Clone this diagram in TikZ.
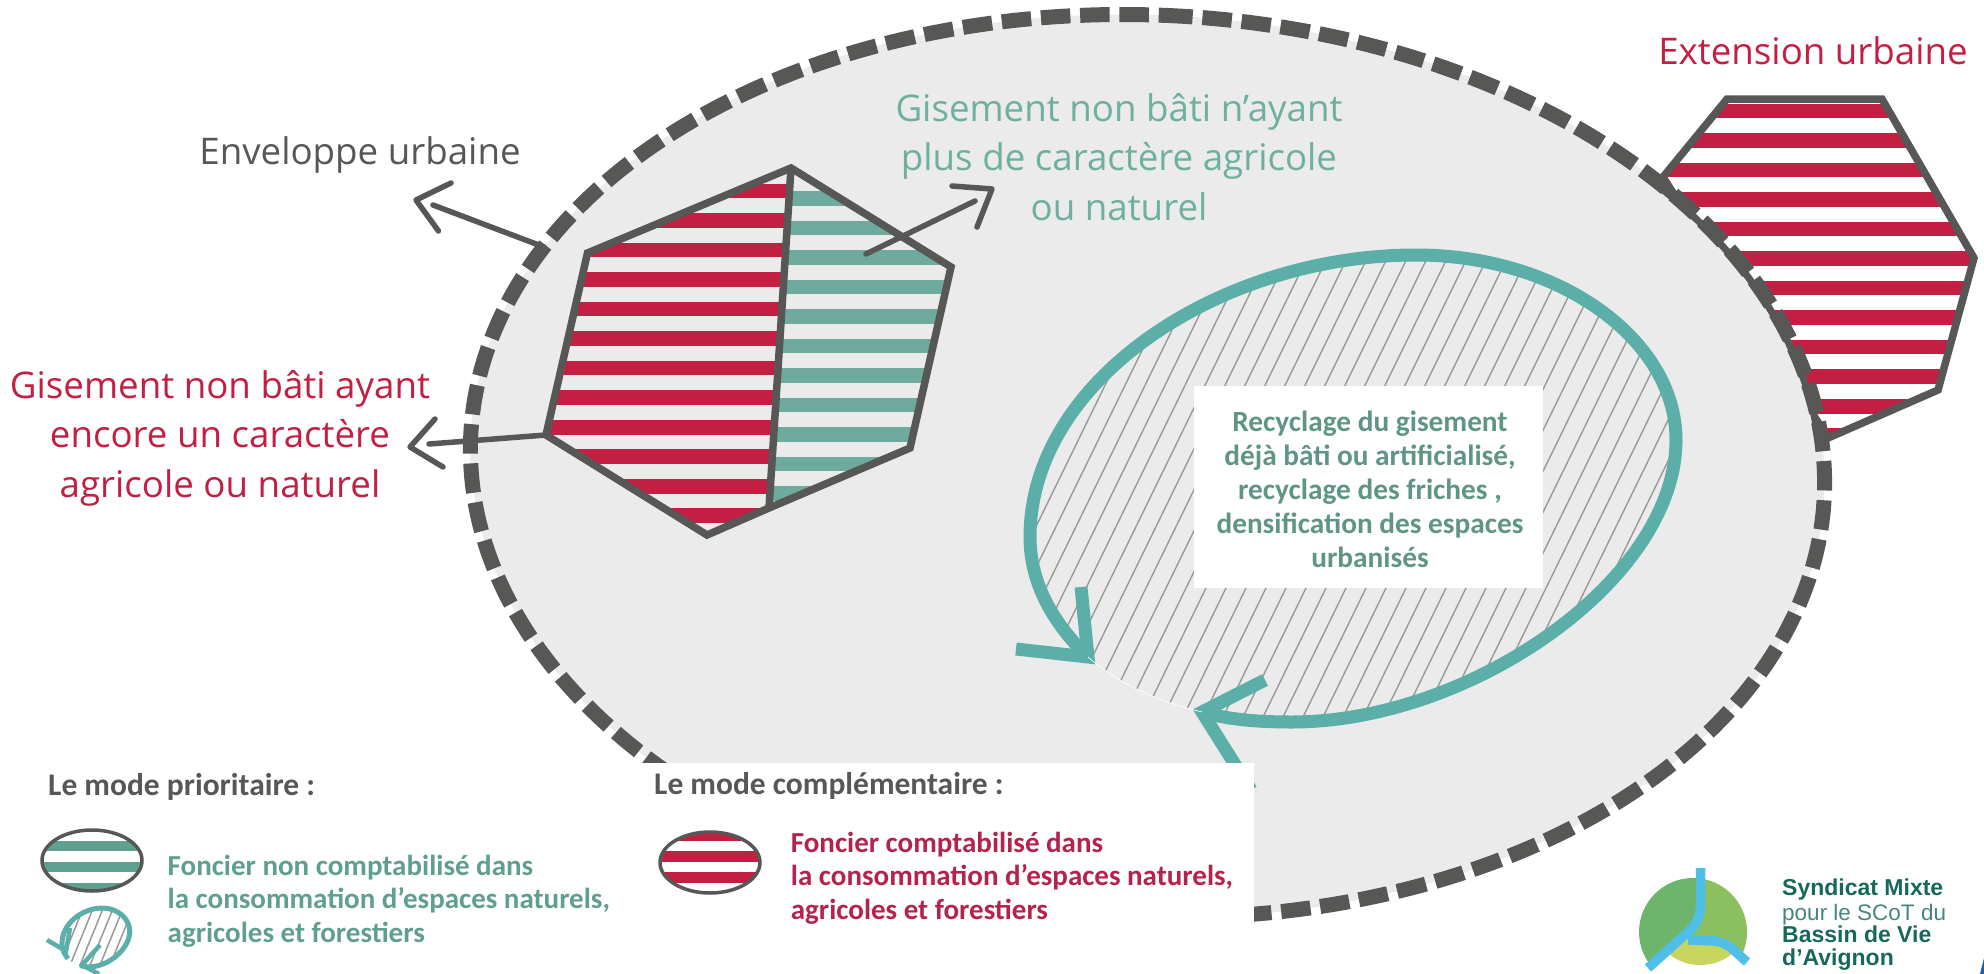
\documentclass[tikz,border=0pt]{standalone}
\usepackage{fontspec}
\setmainfont{Open Sans}
\newfontfamily\legfont{Carlito}
\newfontfamily\logofont{Liberation Sans}
\definecolor{dark}{HTML}{575756}
\definecolor{pale}{HTML}{EBEBEB}
\definecolor{rouge}{HTML}{C21F43}
\definecolor{stripegreen}{HTML}{6EAB9E}
\definecolor{teal2}{HTML}{5BAFA8}
\definecolor{labgreen}{HTML}{6DB0A0}
\definecolor{boxgreen}{HTML}{5F9683}
\definecolor{leggreen}{HTML}{5F9F8F}
\definecolor{legred}{HTML}{B5234D}
\definecolor{loggreen}{HTML}{17685C}
\definecolor{logoa}{HTML}{8CBF5E}
\definecolor{logob}{HTML}{6DB56A}
\definecolor{logoc}{HTML}{C8D65F}
\definecolor{river}{HTML}{4FBFE8}
\definecolor{cornerblue}{HTML}{1F5FA8}
\tikzset{
  bigedge/.style={line width=7.5pt,draw=dark,line join=miter},
  handline/.style={draw=dark,line width=5.5pt,line cap=round,line join=round},
  biglabel/.style={inner sep=0pt,anchor=base,align=center,font=\fontsize{36.7}{49.5}\selectfont},
  boxlabel/.style={inner sep=0pt,anchor=base,align=center,font=\legfont\bfseries\fontsize{29.3}{33.8}\selectfont,text=boxgreen},
  legtitle/.style={inner sep=0pt,anchor=base west,text=dark,font=\legfont\bfseries\fontsize{31.5}{34}\selectfont},
  legtext/.style={inner sep=0pt,anchor=base west,align=left,font=\legfont\bfseries\fontsize{29}{33.5}\selectfont},
  logobold/.style={inner sep=0pt,anchor=base west,text=loggreen,font=\logofont\bfseries\fontsize{23}{23}\selectfont},
  logolight/.style={inner sep=0pt,anchor=base west,text=loggreen!80,font=\logofont\fontsize{22.5}{23}\selectfont},
}
\newcommand{\hatchloop}[3]{%
  \begin{scope}
    \clip (1202,712) .. controls (1230,720) and (1260,722) .. (1292,722)
      .. controls (1470,722) and (1676,580) .. (1676,440)
      .. controls (1676,340) and (1560,255) .. (1416,255)
      .. controls (1220,255) and (1030,380) .. (1030,537)
      .. controls (1030,585) and (1055,625) .. (1088,657)
      .. controls (1120,685) and (1160,702) .. (1202,712) -- cycle;
    \foreach \h in {702,#2,...,1702} \draw[draw=black!40,line width=#3] (\h,760) -- ++(254,-520);
  \end{scope}
  \draw[draw=teal2,line width=#1] (1202,712) .. controls (1230,720) and (1260,722) .. (1292,722)
      .. controls (1470,722) and (1676,580) .. (1676,440)
      .. controls (1676,340) and (1560,255) .. (1416,255)
      .. controls (1220,255) and (1030,380) .. (1030,537)
      .. controls (1030,585) and (1055,625) .. (1088,657);
}
\begin{document}
\begin{tikzpicture}[x=1pt,y=-1pt]
\useasboundingbox (0,0) rectangle (1984,974);
% extension hexagon
\begin{scope}
  \clip (1727,99) -- (1882,99) -- (1974,258) -- (1938,390) -- (1828,438) -- (1663,177) -- cycle;
  \foreach \k in {0,...,11} \fill[rouge] (1650,103.5+29.53*\k) rectangle (1990,118.2+29.53*\k);
\end{scope}
\draw[bigedge] (1727,99) -- (1882,99) -- (1974,258) -- (1938,390) -- (1828,438) -- (1663,177) -- cycle;
% envelope
\fill[pale] plot[domain=0:360,samples=240,smooth] ({1147.5+677.5*cos(\x)*cos(2.5)-451*sin(\x)*sin(2.5)},{466+677.5*cos(\x)*sin(2.5)+451*sin(\x)*cos(2.5)}) -- cycle;
\draw[draw=dark,line width=15pt,dash pattern=on 29.5pt off 9.8pt,dash phase=4pt] plot[domain=-90:270,samples=240,smooth] ({1147.5+677.5*cos(\x)*cos(2.5)-451*sin(\x)*sin(2.5)},{466+677.5*cos(\x)*sin(2.5)+451*sin(\x)*cos(2.5)});
\draw[draw=dark,line width=7pt] plot[domain=-43:-7,samples=40,smooth] ({1147.5+674.5*cos(\x)*cos(2.5)-448*sin(\x)*sin(2.5)},{466+674.5*cos(\x)*sin(2.5)+448*sin(\x)*cos(2.5)});
% left hexagon stripes
\begin{scope}
  \clip (791,168) -- (769,508) -- (707,535) -- (546,435) -- (587.5,253) -- cycle;
  \foreach \k in {0,...,11} \fill[rouge] (530,183.5+29.53*\k) rectangle (800,198.3+29.53*\k);
\end{scope}
\begin{scope}
  \clip (791,168) -- (951,267) -- (910,448) -- (769,508) -- cycle;
  \foreach \k in {0,...,10} \fill[stripegreen] (760,191+29.53*\k) rectangle (960,205.7+29.53*\k);
\end{scope}
\draw[bigedge] (791,168) -- (951,267) -- (910,448) -- (769,508) -- (707,535) -- (546,435) -- (587.5,253) -- cycle;
\draw[bigedge] (791,168) -- (769,508);
% recycling loop
\hatchloop{13pt}{722}{1.4pt}
\draw[draw=teal2,line width=13pt,line join=miter] (1081,587) -- (1088,657) -- (1016,649);
\draw[draw=teal2,line width=13pt,line join=miter] (1265,680) -- (1202,712) -- (1251,790);
\draw[white,line width=.7pt] (1088,657) .. controls (1120,685) and (1160,702) .. (1202,712);
% white box and text
\node[fill=white,minimum width=349pt,minimum height=202pt,inner sep=0pt] (recbox) at (1368,486.5) {};
\node[boxlabel] (rectext) at (1370,567) {Recyclage du gisement\\ déjà bâti ou artificialisé,\\recyclage des friches ,\\densification des espaces\\urbanisés};
% arrows
\coordinate (envTail) at (544,247);
\coordinate (envTip) at (433,205);
\coordinate (envV) at (416,200);
\draw[handline] (envTail) -- (envTip);
\draw[handline] (451,183) -- (envV) -- (438.5,231);
\coordinate (grnTail) at (866,254);
\coordinate (grnTip) at (975,201);
\coordinate (grnV) at (992,189);
\draw[handline] (grnTail) -- (grnTip);
\draw[handline] (952,186) -- (grnV) -- (977,227);
\coordinate (redTail) at (546,435);
\coordinate (redTip) at (429,444);
\coordinate (redV) at (410,447);
\draw[handline] (redTail) -- (redTip);
\draw[handline] (435,419) -- (redV) -- (443,467);
% labels
\node[biglabel,text=dark] (env) at (360,164) {Enveloppe urbaine};
\node[biglabel,text=labgreen] (gisv) at (1119,220) {Gisement non bâti n’ayant\\plus de caractère agricole\\ou naturel};
\node[biglabel,text=rouge] (gisr) at (220,497) {Gisement non bâti ayant\\encore un caractère\\agricole ou naturel};
\node[biglabel,text=rouge] (ext) at (1813,64) {Extension urbaine};
% legend
\fill[white] (0,763) rectangle (1254,974);
\node[legtitle] (lt1) at (48,795) {Le mode prioritaire :};
\node[legtitle] (lt2) at (654,794) {Le mode complémentaire :};
\begin{scope}
  \clip (92,860.5) ellipse [x radius=51,y radius=31.5];
  \fill[leggreen] (40,841) rectangle (145,851);
  \fill[leggreen] (40,862) rectangle (145,872);
  \fill[leggreen] (40,883) rectangle (145,893);
\end{scope}
\draw[draw=dark,line width=3.5pt] (92,860.5) ellipse [x radius=50,y radius=30.5];
\begin{scope}
  \clip (710,862.5) ellipse [x radius=51,y radius=31.5];
  \fill[rouge] (655,830) rectangle (765,841);
  \fill[rouge] (655,851) rectangle (765,862);
  \fill[rouge] (655,872) rectangle (765,883);
\end{scope}
\draw[draw=dark,line width=3.5pt] (710,862.5) ellipse [x radius=50,y radius=30.5];
\begin{scope}[shift={(-46.2,875.9)},x=.105pt,y=-.126pt]
  \hatchloop{5pt}{797}{1.5pt}
\end{scope}
\draw[draw=teal2,line width=4.5pt,line join=miter] (47,940) -- (66,951) -- (70,928);
\draw[draw=teal2,line width=4.5pt,line join=miter] (100,945) -- (82,965) -- (99,974);
\node[legtext,text=leggreen] (lg) at (167.5,942) {Foncier non comptabilisé dans\\la consommation d’espaces naturels,\\agricoles et forestiers};
\node[legtext,text=legred] (lr) at (790.7,919) {Foncier comptabilisé dans\\la consommation d’espaces naturels,\\agricoles et forestiers};
% logo
\begin{scope}
  \clip (1693,932) circle [radius=54];
  \fill[logoa] (1700,870) -- (1760,870) -- (1760,962) -- (1720,942) -- (1688,940) -- cycle;
  \fill[logob] (1630,870) -- (1700.7,870) -- (1700.7,903) .. controls (1700.7,915) and (1697,924) .. (1688,932) -- (1648,968) -- (1630,968) -- cycle;
\end{scope}
\fill[logoc] (1668,953) .. controls (1685,969) and (1715,969) .. (1733,953) -- (1722,941) -- (1688,938) -- cycle;
\coordinate (rivTop) at (1700.7,868);
\coordinate (rivEnd) at (1648,968);
\coordinate (rivFork) at (1688,940);
\coordinate (rivBr) at (1747,962);
\draw[draw=river,line width=9.5pt] (rivTop) -- (1700.7,903) .. controls (1700.7,915) and (1697,924) .. (1688,932) -- (rivEnd);
\draw[draw=river,line width=9.5pt] (rivFork) -- (1714,941) .. controls (1728,942) and (1734,951) .. (rivBr);
\node[logobold] (l1) at (1782,895.7) {Syndicat Mixte};
\node[logolight] (l2) at (1782,920) {pour le SCoT du};
\node[logobold] (l3) at (1782,942) {Bassin de Vie};
\node[logobold] (l4) at (1782,965) {d’Avignon};
\fill[cornerblue] (1984,958) -- (1980,974) -- (1984,974) -- cycle;
\end{tikzpicture}
\end{document}
